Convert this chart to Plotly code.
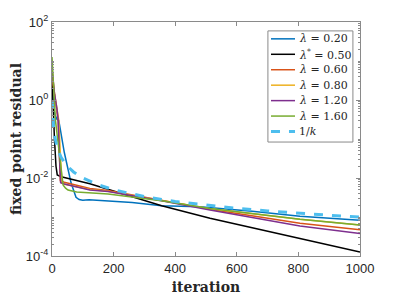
import plotly.graph_objects as go

# ---- data ----
iter_blue = [0, 5, 10, 16, 22, 40, 62, 70, 78, 88, 100, 120, 182, 260, 356, 480, 650, 805, 1000]
res_blue = [2.0, 0.6, 0.42, 0.32, 0.3, 0.045, 0.0074, 0.0045, 0.0032, 0.0028, 0.0027, 0.00275, 0.00257, 0.00235, 0.00195, 0.00182, 0.00140, 0.00105, 0.00083]

iter_black = [0, 4, 8, 13, 17, 30, 123, 356, 513, 805, 1000]
res_black = [4.0, 0.5, 0.1, 0.02, 0.012, 0.0107, 0.0071, 0.00195, 0.00093, 0.00028, 0.000126]

iter_orange = [0, 8, 16, 20, 24, 27, 40, 123, 182, 356, 513, 805, 1000]
res_orange = [4.0, 1.2, 0.5, 0.3, 0.05, 0.0085, 0.0078, 0.0054, 0.0048, 0.0027, 0.00158, 0.00069, 0.00047]

iter_yellow = [0, 8, 16, 22, 28, 32, 45, 123, 182, 356, 513, 805, 1000]
res_yellow = [6.0, 1.5, 0.6, 0.3, 0.03, 0.0075, 0.0068, 0.0051, 0.0046, 0.0027, 0.00163, 0.00087, 0.00062]

iter_purple = [0, 8, 16, 20, 24, 28, 40, 123, 182, 356, 513, 805, 1000]
res_purple = [6.0, 1.5, 0.6, 0.31, 0.04, 0.0076, 0.0070, 0.0049, 0.0045, 0.0026, 0.00151, 0.00059, 0.00038]

iter_green = [0, 5, 11, 25, 36, 44, 52, 80, 123, 182, 356, 513, 805, 1000]
res_green = [12.6, 2.0, 0.31, 0.036, 0.0066, 0.0055, 0.0049, 0.0044, 0.0042, 0.0039, 0.0026, 0.00166, 0.00087, 0.00062]

iter_inv = [1, 2, 3, 4, 5, 7, 10, 15, 20, 30, 50, 70, 100, 150, 200, 300, 400, 500, 600, 700, 800, 900, 1000]
res_inv = [1.0, 0.5, 0.333, 0.25, 0.2, 0.143, 0.1, 0.0667, 0.05, 0.0333, 0.02, 0.0143, 0.01,
           0.00667, 0.005, 0.00333, 0.0025, 0.002, 0.00167, 0.00143, 0.00125, 0.00111, 0.001]

x_ticks = [0, 200, 400, 600, 800, 1000]
y_ticks = [1e-4, 1e-2, 1e0, 1e2]
y_ticktext = ["10<sup>-4</sup>", "10<sup>-2</sup>", "10<sup>0</sup>", "10<sup>2</sup>"]

series = [
    ("<i>λ</i> = 0.20", iter_blue, res_blue, "#0072BD", 1.5, "solid"),
    ("<i>λ</i><sup>*</sup> = 0.50", iter_black, res_black, "#000000", 1.5, "solid"),
    ("<i>λ</i> = 0.60", iter_orange, res_orange, "#D95319", 1.5, "solid"),
    ("<i>λ</i> = 0.80", iter_yellow, res_yellow, "#EDB120", 1.5, "solid"),
    ("<i>λ</i> = 1.20", iter_purple, res_purple, "#7E2F8E", 1.5, "solid"),
    ("<i>λ</i> = 1.60", iter_green, res_green, "#77AC30", 1.5, "solid"),
    ("1/<i>k</i>", iter_inv, res_inv, "#4DBEEE", 3, "dash"),
]

fig = go.Figure()
for name, xs, ys, color, w, dash in series:
    fig.add_trace(go.Scatter(x=xs, y=ys, mode="lines", name=name, showlegend=False,
                             line=dict(color=color, width=w, dash=dash)))

# ---- legend box (drawn by hand to match the compact MATLAB legend) ----
leg_x0, leg_x1, leg_y0, leg_y1 = 0.701, 0.977, 0.487, 0.962
fig.add_shape(type="rect", xref="paper", yref="paper", x0=leg_x0, x1=leg_x1,
              y0=leg_y0, y1=leg_y1, line=dict(color="#8a8a8a", width=1),
              fillcolor="white", layer="above")
row_top, row_step = 0.928, 0.066
for i, (name, xs, ys, color, w, dash) in enumerate(series):
    yy = row_top - i * row_step
    fig.add_shape(type="line", xref="paper", yref="paper", x0=0.711, x1=0.789,
                  y0=yy, y1=yy, line=dict(color=color, width=w, dash=dash), layer="above")
    fig.add_annotation(xref="paper", yref="paper", x=0.795, y=yy, text=name,
                       showarrow=False, xanchor="left", yanchor="middle",
                       font=dict(family="DejaVu Serif, serif", size=11, color="#262626"))

minor_vals = []
for e in range(-4, 2):
    for m in range(1, 10):
        v = m * 10 ** e
        if m == 1 and e % 2 == 0:
            continue
        minor_vals.append(v)

axis_common = dict(showline=True, linecolor="#8a8a8a", linewidth=1, mirror="ticks",
                   ticks="inside", ticklen=4, tickcolor="#8a8a8a", showgrid=False,
                   zeroline=False, automargin=False,
                   tickfont=dict(family="Liberation Sans, Arial, sans-serif",
                                 size=13, color="#262626"))

# the page body has an 8px margin, so the figure is sized and placed to compensate
fig.update_layout(
    width=391, height=291,
    margin=dict(l=44, r=39, t=14, b=43),
    paper_bgcolor="white", plot_bgcolor="white",
    showlegend=False,
    xaxis=dict(range=[0, 1000], tickvals=x_ticks,
               title=dict(text="<b>iteration</b>", standoff=7,
                          font=dict(family="DejaVu Serif, serif", size=14, color="#262626")),
               **axis_common),
    yaxis=dict(type="log", range=[-4, 2], tickvals=y_ticks, ticktext=y_ticktext,
               minor=dict(tickvals=minor_vals, ticks="inside", ticklen=2, tickcolor="#8a8a8a"),
               title=dict(text="<b>fixed point residual</b>", standoff=4,
                          font=dict(family="DejaVu Serif, serif", size=14, color="#262626")),
               **axis_common),
)

fig.write_html("out.html")
